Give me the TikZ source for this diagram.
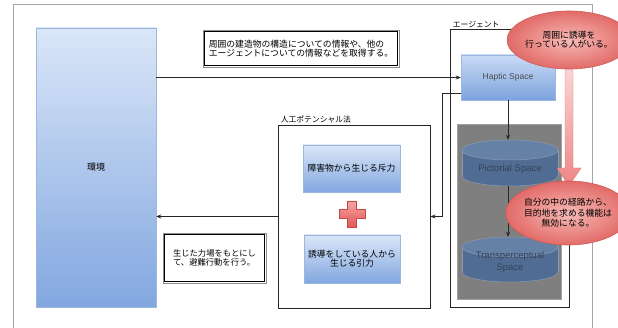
\documentclass[tikz,border=0pt]{standalone}
\usepackage{fontspec}
\setmainfont{Liberation Sans}
\newfontfamily\jp{Noto Sans CJK JP}
\usetikzlibrary{arrows.meta,shapes.geometric}
\definecolor{frameg}{HTML}{A6A6A6}
\definecolor{bluetop}{HTML}{DAE6F8}
\definecolor{bluebot}{HTML}{82A7E0}
\definecolor{haptop}{HTML}{C9DBF6}
\definecolor{hapbot}{HTML}{7DA2DD}
\definecolor{blueedge}{HTML}{9DB6DC}
\definecolor{grayfill}{HTML}{7F7F7F}
\definecolor{grayedge}{HTML}{A0A0A0}
\definecolor{cylbody}{HTML}{506C92}
\definecolor{cyltop}{HTML}{6681A6}
\definecolor{cyledge}{HTML}{8A9AB2}
\definecolor{cyltext}{HTML}{33435C}
\definecolor{pinkin}{HTML}{F6BAB6}
\definecolor{pinkout}{HTML}{E26B68}
\definecolor{pinkedge}{HTML}{D05A58}
\definecolor{shafttop}{HTML}{FBD6D6}
\definecolor{shaftbot}{HTML}{EE8585}
\definecolor{crosstop}{HTML}{F7A3A3}
\definecolor{crossbot}{HTML}{E05858}
\definecolor{crossedge}{HTML}{C44848}
\begin{document}
\begin{tikzpicture}[x=1pt,y=-1pt,
  >={Stealth[length=5pt,width=4pt]},
  jpfont/.style={font=\jp\fontsize{#1}{#1*1.2}\selectfont},
  bluebox/.style={draw=blueedge, line width=0.5pt, top color=bluetop, bottom color=bluebot, inner sep=0pt},
  hapbox/.style={draw=blueedge, line width=0.5pt, top color=haptop, bottom color=hapbot, inner sep=0pt},
  infobox/.style={draw=black!45, line width=0.6pt, fill=white, inner sep=0pt},
  groupbox/.style={draw=black!85, line width=0.8pt, inner sep=0pt},
  pinkell/.style={ellipse, draw=pinkedge, line width=0.6pt, inner color=pinkin, outer color=pinkout, inner sep=0pt, align=center},
  conn/.style={draw=black!85, line width=0.6pt}
]
\useasboundingbox (0,0) rectangle (618,328);
\fill[white] (0,0) rectangle (618,328);

% outer frame
\draw[frameg, line width=1pt] (13,328) -- (13,5) -- (592,5) -- (592,328);

% environment
\node[bluebox, minimum width=120pt, minimum height=279pt, jpfont=9pt] (env) at (96,167.5) {環境};

% info box top
\node[infobox, minimum width=196pt, minimum height=37pt, jpfont=8.8pt, align=left] (info) at (301,48.5)
  {周囲の建造物の構造についての情報や、他の\\エージェントについての情報などを取得する。};
\draw[black, line width=0.9pt] ([shift={(2,2)}]info.north west) rectangle ([shift={(-2,-2)}]info.south east);

% action box bottom-left
\node[infobox, minimum width=103pt, minimum height=50pt, jpfont=8.3pt, align=left] (act) at (214.5,258)
  {生じた力場をもとにし\\て、避難行動を行う。};
\draw[black, line width=0.9pt] ([shift={(2,2)}]act.north west) rectangle ([shift={(-2,-2)}]act.south east);

% artificial potential group
\node[groupbox, minimum width=152pt, minimum height=183pt] (pot) at (354,216.5) {};
\node[jpfont=7.8pt, anchor=south west, inner sep=1pt] (potlbl) at ([xshift=2pt]pot.north west) {人工ポテンシャル法};
\node[bluebox, minimum width=97pt, minimum height=47pt, jpfont=8.8pt] (rep) at (351.5,168.5) {障害物から生じる斥力};
\node[bluebox, minimum width=96pt, minimum height=48pt, jpfont=8.8pt, align=center] (att) at (352,259) {誘導をしている人から\\生じる引力};

% red cross
\path[draw=crossedge, line width=0.5pt, top color=crosstop, bottom color=crossbot]
  (347.5,201) -- (356.5,201) -- (356.5,209.5) -- (365,209.5) -- (365,218.5) -- (356.5,218.5)
  -- (356.5,227) -- (347.5,227) -- (347.5,218.5) -- (339,218.5) -- (339,209.5) -- (347.5,209.5) -- cycle;

% agent group
\node[groupbox, minimum width=119pt, minimum height=278pt] (agent) at (509.5,168) {};
\node[jpfont=7.8pt, anchor=south west, inner sep=1pt] (agentlbl) at ([xshift=2pt]agent.north west) {エージェント};

\node[hapbox, minimum width=94pt, minimum height=45pt, font=\fontsize{8.5}{10}\selectfont, text=black!70] (hap) at (508,77.5) {Haptic Space};

% gray area
\node[draw=grayedge, fill=grayfill, line width=0.6pt, minimum width=104pt, minimum height=175pt, inner sep=0pt] (gray) at (509,211.5) {};

% Pictorial Space cylinder
\path[fill=cylbody, draw=cyledge, line width=0.5pt] (510,176) ellipse[x radius=48pt, y radius=10pt];
\fill[cylbody] (462,150) rectangle (558,176);
\draw[cyledge, line width=0.5pt] (462,150) -- (462,176) (558,150) -- (558,176);
\path[fill=cyltop, draw=cyledge, line width=0.5pt] (510,150) ellipse[x radius=48pt, y radius=10pt];
\node[minimum width=96pt, minimum height=46pt, inner sep=0pt, font=\fontsize{9.5}{11}\selectfont, text=cyltext, text depth=0pt] (pic) at (510,163) {};
\node[font=\fontsize{9.5}{11}\selectfont, text=cyltext, inner sep=0pt] (pictxt) at (510,169) {Pictorial Space};

% Transperceptual Space cylinder
\path[fill=cylbody, draw=cyledge, line width=0.5pt] (510,272) ellipse[x radius=48pt, y radius=10pt];
\fill[cylbody] (462,247) rectangle (558,272);
\draw[cyledge, line width=0.5pt] (462,247) -- (462,272) (558,247) -- (558,272);
\path[fill=cyltop, draw=cyledge, line width=0.5pt] (510,247) ellipse[x radius=48pt, y radius=10pt];
\node[minimum width=96pt, minimum height=45pt, inner sep=0pt] (trans) at (510,259.5) {};
\node[font=\fontsize{9.5}{11.5}\selectfont, text=cyltext, inner sep=0pt, align=center] (transtxt) at (510,262) {Transperceptual\\Space};

% connectors
\draw[conn, ->] (env.east |- hap.west) -- (hap.west);
\draw[conn, ->] ([yshift=-15.5pt]hap.west) -- ++(-18,0) |- (pot.east);
\draw[conn, ->] (pot.west) -- (pot.west -| env.east);
\draw[conn, ->] (hap.south) -- (hap.south |- pic.north);
\draw[conn, ->] (hap.south |- pic.south) -- (hap.south |- trans.north);

% pink arrow
\path[draw=pinkedge!80, line width=0.4pt, top color=shafttop, bottom color=shaftbot]
  (565,66) -- (573,66) -- (573,168) -- (581,168) -- (569,186) -- (557,168) -- (565,168) -- cycle;

% ellipses
\node[pinkell, minimum width=96pt, minimum height=58pt, jpfont=8.8pt] (el1) at (569,40) {周囲に誘導を\\行っている人がいる。};
\node[pinkell, minimum width=100pt, minimum height=64pt, font=\jp\fontsize{8.8pt}{10.5pt}\selectfont] (el2) at (568,213) {自分の中の経路から、\\目的地を求める機能は\\無効になる。};
\end{tikzpicture}
\end{document}
